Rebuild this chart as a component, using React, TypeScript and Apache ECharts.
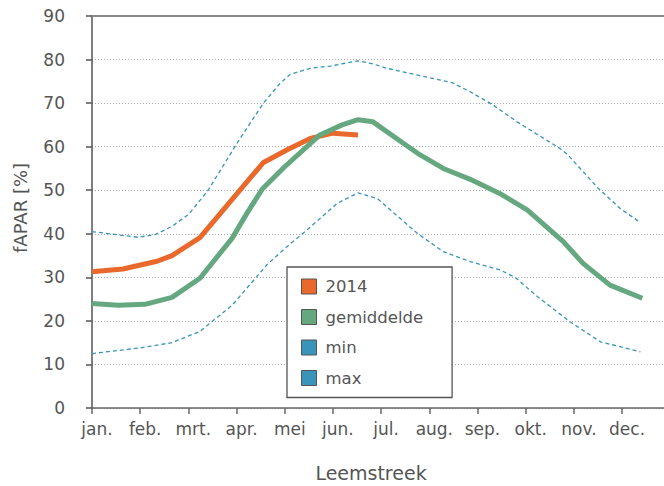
import React, { useEffect, useRef } from "react";
import * as echarts from "echarts";

// Month tick labels (x in months since 1 January)
const monthLabels = ["jan.", "feb.", "mrt.", "apr.", "mei", "jun.", "jul.", "aug.", "sep.", "okt.", "nov.", "dec."];
const monthTicks = monthLabels.map((_, i) => i);

// 2014
const y2014Month = [0, 0.64, 1.35, 1.66, 2.24, 3.55, 4.07, 4.53, 5.0, 5.52];
const y2014Value = [31.3, 31.9, 33.7, 35.0, 39.1, 56.3, 59.4, 61.9, 63.1, 62.7];

// gemiddelde
const avgMonth = [0, 0.54, 1.1, 1.66, 2.24, 2.91, 3.22, 3.53, 4.01, 4.73, 5.19, 5.52, 5.83, 6.46, 6.81, 7.29, 7.85, 8.47, 9.03, 9.78, 10.19, 10.75, 11.42];
const avgValue = [24.0, 23.6, 23.8, 25.4, 29.8, 39.0, 44.8, 50.2, 55.5, 62.7, 65.0, 66.2, 65.7, 60.8, 58.1, 55.0, 52.5, 49.2, 45.5, 38.2, 33.2, 28.2, 25.2];

// min
const minMonth = [0, 1.0, 1.66, 2.24, 2.91, 3.63, 4.01, 4.38, 5.09, 5.52, 5.92, 6.75, 7.29, 7.85, 8.47, 8.78, 9.24, 9.92, 10.55, 11.38];
const minValue = [12.5, 13.8, 15.0, 17.6, 23.6, 32.9, 36.7, 40.1, 47.0, 49.4, 48.1, 40.1, 35.9, 33.6, 31.7, 30.0, 25.6, 19.8, 15.2, 12.9];

// max
const maxMonth = [0, 0.95, 1.31, 1.66, 2.01, 2.41, 3.01, 3.55, 3.9, 4.11, 4.53, 4.94, 5.52, 5.83, 6.12, 6.81, 7.47, 7.85, 8.32, 8.82, 9.71, 9.86, 10.5, 10.96, 11.38];
const maxValue = [40.5, 39.2, 39.8, 41.7, 44.5, 50.0, 60.8, 69.9, 74.5, 76.6, 78.0, 78.5, 79.7, 79.0, 78.0, 76.3, 74.7, 72.6, 69.6, 65.7, 59.6, 58.3, 50.5, 45.8, 42.6];

const X_MAX = 11.87;

const FONT = "DejaVu Sans";
const TEXT = "#555";
const ORANGE = "#E8692B";
const GREEN = "#65A880";
const BLUE = "#3A93B8";

const pairs = (xs: number[], ys: number[]) => xs.map((x, i) => [x, ys[i]]);

export default function App() {
  const ref = useRef<HTMLDivElement>(null);
  useEffect(() => {
    if (!ref.current) return;
    const chart = echarts.init(ref.current, undefined, { renderer: "svg" });
    chart.setOption({
      animation: false,
      backgroundColor: "#fff",
      grid: { left: 92, top: 16, right: 0, bottom: 78 },
      xAxis: [
        {
          type: "value",
          min: 0,
          max: X_MAX,
          position: "bottom",
          axisLine: { show: true, lineStyle: { color: "#666", width: 1.5 } },
          axisTick: { show: true, length: 6, customValues: monthTicks, lineStyle: { color: "#666", width: 1.5 } },
          splitLine: { show: false },
          axisLabel: {
            customValues: monthTicks,
            formatter: (v: number) => monthLabels[Math.round(v)] ?? "",
            margin: 12,
            color: TEXT,
            fontSize: 17,
            fontFamily: FONT,
            padding: [0, 0, 0, 10],
          },
        },
        {
          type: "value",
          min: 0,
          max: X_MAX,
          position: "top",
          axisLine: { show: true, lineStyle: { color: "#8a8a8a", width: 2 } },
          axisTick: { show: false },
          axisLabel: { show: false },
          splitLine: { show: false },
        },
      ],
      yAxis: {
        type: "value",
        min: 0,
        max: 90,
        interval: 10,
        axisLine: { show: true, lineStyle: { color: "#555", width: 1.5 } },
        axisTick: { show: true, length: 6, lineStyle: { color: "#555", width: 1.5 } },
        axisLabel: { margin: 27, color: TEXT, fontSize: 17, fontFamily: FONT },
        splitLine: { show: true, lineStyle: { type: [1, 2], color: "#aaa", width: 1 } },
      },
      legend: {
        left: 287,
        top: 267,
        orient: "vertical",
        icon: "rect",
        itemWidth: 15,
        itemHeight: 15,
        itemGap: 13.5,
        padding: [11, 29, 11, 14],
        borderColor: "#555",
        borderWidth: 1.3,
        backgroundColor: "#fff",
        textStyle: { fontSize: 16.5, color: TEXT, fontFamily: FONT, padding: [0, 0, 0, 4] },
        itemStyle: { borderColor: "#555", borderWidth: 1, borderType: "solid" },
        data: ["2014", "gemiddelde", "min", "max"],
      },
      series: [
        {
          name: "2014",
          type: "line",
          data: pairs(y2014Month, y2014Value),
          showSymbol: false,
          z: 3,
          color: ORANGE,
          lineStyle: { color: ORANGE, width: 5 },
        },
        {
          name: "gemiddelde",
          type: "line",
          data: pairs(avgMonth, avgValue),
          showSymbol: false,
          z: 4,
          color: GREEN,
          lineStyle: { color: GREEN, width: 5 },
        },
        {
          name: "min",
          type: "line",
          data: pairs(minMonth, minValue),
          showSymbol: false,
          z: 2,
          color: BLUE,
          lineStyle: { color: BLUE, width: 1.3, type: [4, 3] },
        },
        {
          name: "max",
          type: "line",
          data: pairs(maxMonth, maxValue),
          showSymbol: false,
          z: 2,
          color: BLUE,
          lineStyle: { color: BLUE, width: 1.3, type: [4, 3] },
        },
      ],
      graphic: [
        {
          type: "text",
          x: 20,
          y: 208,
          rotation: Math.PI / 2,
          style: {
            text: "fAPAR [%]",
            fontSize: 18,
            fontFamily: FONT,
            fill: TEXT,
            textAlign: "center",
            textVerticalAlign: "middle",
          },
        },
        {
          type: "text",
          x: 371,
          y: 473,
          style: {
            text: "Leemstreek",
            fontSize: 19,
            fontFamily: FONT,
            fill: TEXT,
            textAlign: "center",
            textVerticalAlign: "middle",
          },
        },
      ],
    });
    return () => chart.dispose();
  }, []);
  return <div ref={ref} style={{ position: "fixed", left: 0, top: 0, width: 664, height: 486 }} />;
}
